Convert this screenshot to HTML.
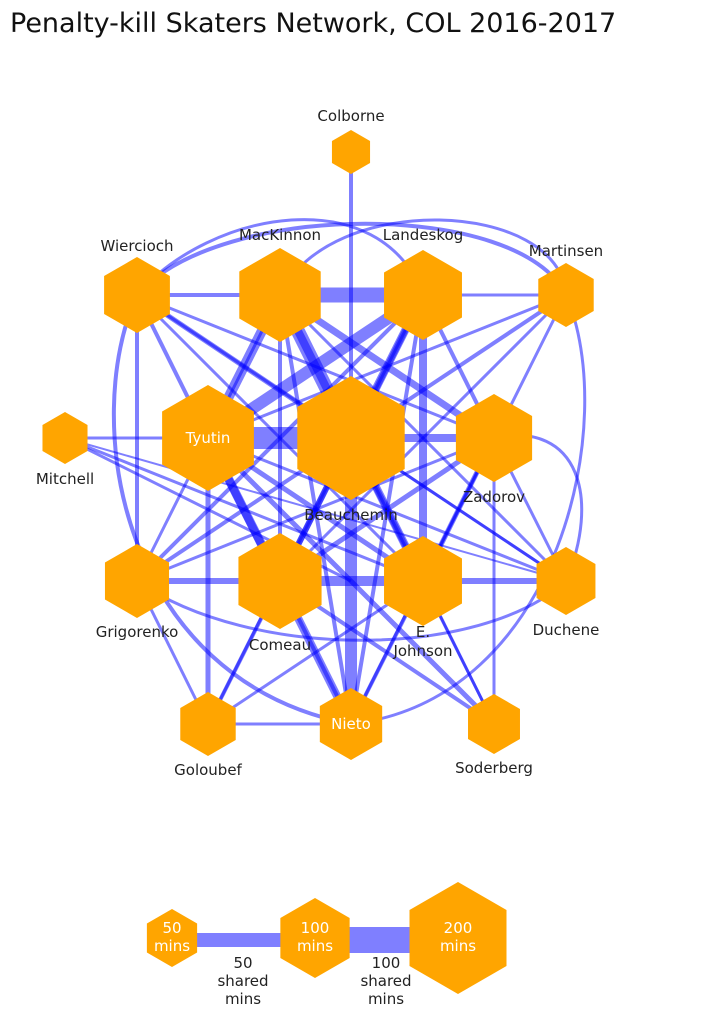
<!DOCTYPE html>
<html><head><meta charset="utf-8"><style>
html,body{margin:0;padding:0;background:#fff;width:709px;height:1024px;overflow:hidden}
svg{display:block}
text{font-family:"DejaVu Sans","Liberation Sans",sans-serif;font-size:15px;fill:#222}
</style></head><body>
<svg width="709" height="1024" viewBox="0 0 709 1024">
<defs><polygon id="h" points="0,-1 0.866,-0.5 0.866,0.5 0,1 -0.866,0.5 -0.866,-0.5"/></defs>
<text x="10" y="32" style="font-size:27px;fill:#111">Penalty-kill Skaters Network, COL 2016-2017</text>
<g stroke="#0000ff" stroke-opacity="0.5" fill="none">
<line x1="208" y1="438" x2="351" y2="438" stroke-width="22"/>
<line x1="280" y1="295" x2="423" y2="295" stroke-width="15"/>
<line x1="280" y1="295" x2="351" y2="438" stroke-width="14"/>
<line x1="208" y1="438" x2="423" y2="295" stroke-width="12"/>
<line x1="351" y1="438" x2="351" y2="724" stroke-width="12"/>
<line x1="208" y1="438" x2="280" y2="295" stroke-width="10"/>
<line x1="280" y1="581" x2="423" y2="581" stroke-width="10"/>
<line x1="423" y1="295" x2="423" y2="581" stroke-width="8"/>
<line x1="351" y1="438" x2="494" y2="438" stroke-width="8"/>
<line x1="208" y1="438" x2="280" y2="581" stroke-width="9"/>
<line x1="208" y1="438" x2="351" y2="724" stroke-width="8"/>
<line x1="280" y1="295" x2="423" y2="581" stroke-width="8"/>
<line x1="423" y1="295" x2="351" y2="438" stroke-width="8"/>
<line x1="280" y1="295" x2="494" y2="438" stroke-width="7"/>
<line x1="423" y1="295" x2="280" y2="581" stroke-width="6"/>
<line x1="137" y1="581" x2="280" y2="581" stroke-width="6"/>
<line x1="423" y1="581" x2="566" y2="581" stroke-width="6"/>
<line x1="280" y1="581" x2="351" y2="438" stroke-width="6"/>
<line x1="423" y1="581" x2="351" y2="438" stroke-width="6"/>
<line x1="208" y1="438" x2="208" y2="724" stroke-width="5"/>
<line x1="208" y1="438" x2="423" y2="581" stroke-width="5"/>
<line x1="494" y1="438" x2="280" y2="581" stroke-width="5"/>
<line x1="494" y1="438" x2="423" y2="581" stroke-width="5"/>
<line x1="137" y1="295" x2="351" y2="438" stroke-width="5"/>
<line x1="137" y1="295" x2="280" y2="295" stroke-width="4"/>
<line x1="137" y1="295" x2="208" y2="438" stroke-width="4"/>
<line x1="137" y1="295" x2="137" y2="581" stroke-width="4"/>
<line x1="137" y1="295" x2="423" y2="581" stroke-width="3"/>
<line x1="137" y1="295" x2="494" y2="438" stroke-width="3"/>
<line x1="137" y1="295" x2="566" y2="581" stroke-width="3"/>
<line x1="351" y1="152" x2="351" y2="438" stroke-width="4"/>
<line x1="566" y1="295" x2="208" y2="438" stroke-width="3"/>
<line x1="566" y1="295" x2="351" y2="438" stroke-width="4"/>
<line x1="566" y1="295" x2="280" y2="581" stroke-width="3"/>
<line x1="566" y1="295" x2="423" y2="581" stroke-width="3"/>
<line x1="566" y1="295" x2="423" y2="295" stroke-width="3"/>
<line x1="65" y1="438" x2="208" y2="438" stroke-width="3"/>
<line x1="65" y1="438" x2="351" y2="581" stroke-width="3"/>
<line x1="65" y1="438" x2="423" y2="581" stroke-width="3"/>
<line x1="65" y1="438" x2="566" y2="581" stroke-width="2"/>
<line x1="137" y1="581" x2="423" y2="295" stroke-width="4"/>
<line x1="137" y1="581" x2="351" y2="438" stroke-width="4"/>
<line x1="137" y1="581" x2="280" y2="295" stroke-width="3"/>
<line x1="137" y1="581" x2="208" y2="724" stroke-width="3"/>
<line x1="137" y1="581" x2="494" y2="438" stroke-width="3"/>
<line x1="566" y1="581" x2="280" y2="295" stroke-width="3"/>
<line x1="566" y1="581" x2="351" y2="438" stroke-width="3"/>
<line x1="566" y1="581" x2="208" y2="438" stroke-width="3"/>
<line x1="566" y1="581" x2="494" y2="438" stroke-width="3"/>
<line x1="494" y1="724" x2="208" y2="438" stroke-width="5"/>
<line x1="494" y1="724" x2="280" y2="581" stroke-width="4"/>
<line x1="494" y1="724" x2="494" y2="438" stroke-width="3"/>
<line x1="494" y1="724" x2="351" y2="438" stroke-width="3"/>
<line x1="494" y1="724" x2="423" y2="581" stroke-width="3"/>
<line x1="208" y1="724" x2="280" y2="581" stroke-width="4"/>
<line x1="208" y1="724" x2="423" y2="295" stroke-width="3"/>
<line x1="208" y1="724" x2="351" y2="724" stroke-width="3"/>
<line x1="208" y1="724" x2="423" y2="581" stroke-width="3"/>
<line x1="351" y1="724" x2="280" y2="295" stroke-width="4"/>
<line x1="351" y1="724" x2="423" y2="295" stroke-width="4"/>
<line x1="351" y1="724" x2="494" y2="438" stroke-width="3"/>
<line x1="351" y1="724" x2="280" y2="581" stroke-width="4"/>
<line x1="351" y1="724" x2="423" y2="581" stroke-width="4"/>
<line x1="280" y1="295" x2="280" y2="581" stroke-width="4"/>
<line x1="494" y1="438" x2="423" y2="295" stroke-width="4"/>
<path d="M137 295 C 220 200, 520 200, 566 295" stroke-width="4"/>
<path d="M280 295 C 330 190, 560 200, 566 295" stroke-width="3"/>
<path d="M137 295 C 80 420, 120 680, 351 724" stroke-width="4"/>
<path d="M566 295 C 620 420, 560 700, 351 724" stroke-width="3"/>
<path d="M137 581 C 250 660, 480 660, 566 581" stroke-width="3"/>
<path d="M423 295 C 380 180, 210 210, 137 295" stroke-width="3"/>
<path d="M566 581 C 600 500, 580 420, 494 438" stroke-width="3"/>
<line x1="172" y1="940" x2="315" y2="940" stroke-width="14"/>
<line x1="315" y1="940" x2="458" y2="940" stroke-width="26"/>
</g>
<g fill="#ffa500">
<use href="#h" transform="translate(351 152) scale(22)"/>
<use href="#h" transform="translate(137 295) scale(38)"/>
<use href="#h" transform="translate(280 295) scale(47)"/>
<use href="#h" transform="translate(423 295) scale(45)"/>
<use href="#h" transform="translate(566 295) scale(32)"/>
<use href="#h" transform="translate(65 438) scale(26)"/>
<use href="#h" transform="translate(208 438) scale(53)"/>
<use href="#h" transform="translate(351 438) scale(62)"/>
<use href="#h" transform="translate(494 438) scale(44)"/>
<use href="#h" transform="translate(137 581) scale(37)"/>
<use href="#h" transform="translate(280 581) scale(48)"/>
<use href="#h" transform="translate(423 581) scale(45)"/>
<use href="#h" transform="translate(566 581) scale(34)"/>
<use href="#h" transform="translate(208 724) scale(32)"/>
<use href="#h" transform="translate(351 724) scale(36)"/>
<use href="#h" transform="translate(494 724) scale(30)"/>
<use href="#h" transform="translate(172 938) scale(29)"/>
<use href="#h" transform="translate(315 938) scale(40)"/>
<use href="#h" transform="translate(458 938) scale(56)"/>
</g>
<g text-anchor="middle">
<text x="351" y="121">Colborne</text>
<text x="137" y="251">Wiercioch</text>
<text x="280" y="240">MacKinnon</text>
<text x="423" y="240">Landeskog</text>
<text x="566" y="256">Martinsen</text>
<text x="65" y="484">Mitchell</text>
<text x="208" y="443" style="fill:#fff">Tyutin</text>
<text x="351" y="520">Beauchemin</text>
<text x="494" y="502">Zadorov</text>
<text x="137" y="637">Grigorenko</text>
<text x="280" y="650">Comeau</text>
<text x="423" y="637">E.</text>
<text x="423" y="656">Johnson</text>
<text x="566" y="635">Duchene</text>
<text x="208" y="775">Goloubef</text>
<text x="351" y="729" style="fill:#fff">Nieto</text>
<text x="494" y="773">Soderberg</text>
<text x="172" y="933" style="fill:#fff">50</text>
<text x="172" y="951" style="fill:#fff">mins</text>
<text x="315" y="933" style="fill:#fff">100</text>
<text x="315" y="951" style="fill:#fff">mins</text>
<text x="458" y="933" style="fill:#fff">200</text>
<text x="458" y="951" style="fill:#fff">mins</text>
<text x="243" y="968">50</text>
<text x="243" y="986">shared</text>
<text x="243" y="1004">mins</text>
<text x="386" y="968">100</text>
<text x="386" y="986">shared</text>
<text x="386" y="1004">mins</text>
</g>
</svg>
</body></html>
